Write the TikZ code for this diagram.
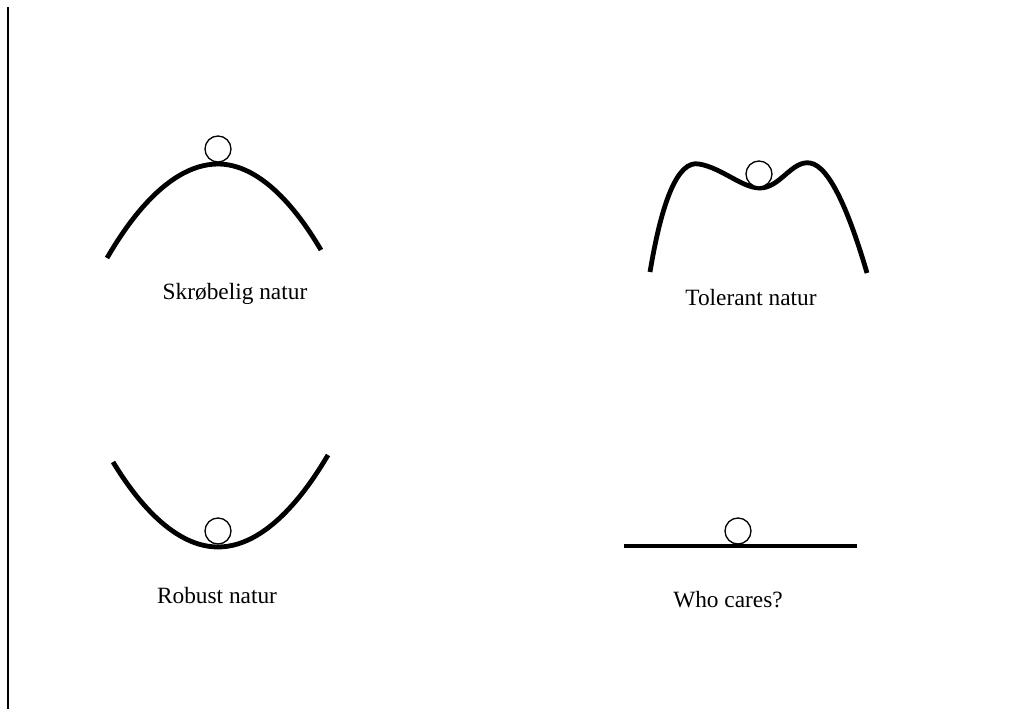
\documentclass[tikz,border=0pt]{standalone}
\usepackage{fontspec}
\setmainfont{Liberation Serif}
\usepackage{tikz}
\usetikzlibrary{
  arrows.meta,
  positioning,
  calc
}
\tikzset{
  ground/.style={line width=3.6pt, black},
  ball/.style={draw, circle, line width=1pt, minimum size=19.5pt, inner sep=0pt, fill=white},
  caption/.style={font=\fontsize{17.5}{21}\selectfont, inner sep=0pt, anchor=base}
}

\begin{document}
\begin{tikzpicture}[x=0.75pt, y=-0.75pt]
  \useasboundingbox (0,0) rectangle (1022,709);
  \draw[line width=1.1pt] (8,7) -- (8,709);
  % skroebelig
  \draw[ground] (107,258) parabola bend (218,164) (321,250);
  \node[ball] (bs) at (218,149) {};
  \node[caption] (ts) at (235,300) {Skrøbelig natur};
  % tolerant
  \draw[ground] (650,272) .. controls (662,200) and (678,160) .. (699,164)
    .. controls (722,168) and (742,188) .. (760,188)
    .. controls (780,188) and (792,160) .. (810,163)
    .. controls (830,166) and (850,215) .. (867,273);
  \node[ball] (bt) at (759,174) {};
  \node[caption] (tt) at (751,306) {Tolerant natur};
  % robust
  \draw[ground] (113,462) parabola bend (218,547) (328,455);
  \node[ball] (br) at (218,531) {};
  \node[caption] (tr) at (217,603) {Robust natur};
  % who cares
  \draw[ground] (624,546) -- (857,546);
  \node[ball] (bw) at (738,531) {};
  \node[caption] (tw) at (728,607) {Who cares?};
\end{tikzpicture}
\end{document}
